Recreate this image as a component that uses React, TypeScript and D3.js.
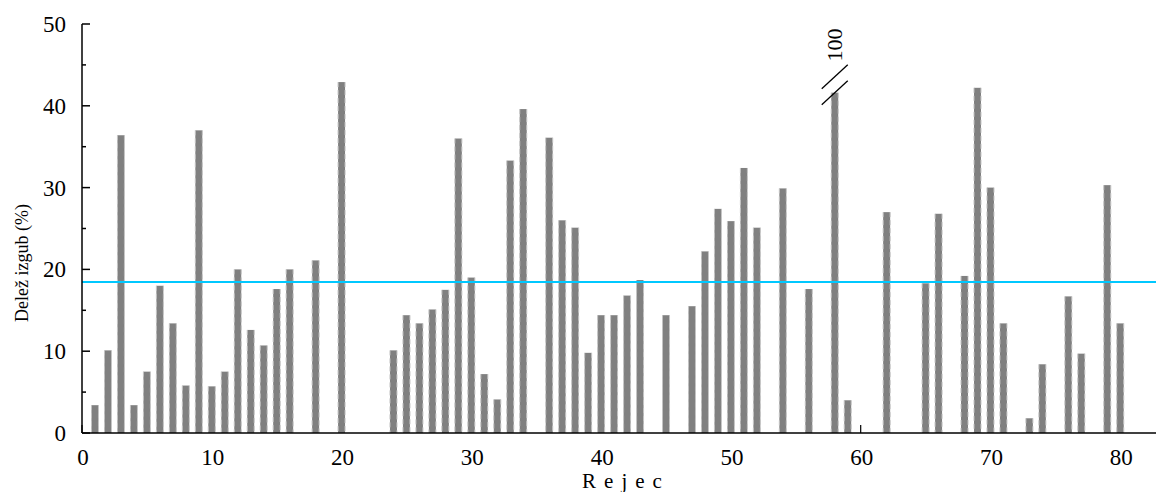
import React from "react";
import * as d3 from "d3";

// Row (Rejec) numbers and loss share (%) values; missing rows are omitted
const rows: number[] = [
  1, 2, 3, 4, 5, 6, 7, 8, 9, 10,
  11, 12, 13, 14, 15, 16, 18, 20,
  24, 25, 26, 27, 28, 29, 30,
  31, 32, 33, 34, 36, 37, 38, 39, 40,
  41, 42, 43, 45, 47, 48, 49, 50,
  51, 52, 54, 56, 58, 59,
  62, 65, 66, 68, 69, 70,
  71, 73, 74, 76, 77, 79, 80,
];
const losses: number[] = [
  3.4, 10.1, 36.4, 3.4, 7.5, 18.0, 13.4, 5.8, 37.0, 5.7,
  7.5, 20.0, 12.6, 10.7, 17.6, 20.0, 21.1, 42.9,
  10.1, 14.4, 13.4, 15.1, 17.5, 36.0, 19.0,
  7.2, 4.1, 33.3, 39.6, 36.1, 26.0, 25.1, 9.8, 14.4,
  14.4, 16.8, 18.7, 14.4, 15.5, 22.2, 27.4, 25.9,
  32.4, 25.1, 29.9, 17.6, 100, 4.0,
  27.0, 18.3, 26.8, 19.2, 42.2, 30.0,
  13.4, 1.8, 8.4, 16.7, 9.7, 30.3, 13.4,
];
const meanLoss = 18.45;
const yMax = 50;
const breakAt = 41.6; // bars above the axis maximum are drawn broken at this value
const xTicks: number[] = [0, 10, 20, 30, 40, 50, 60, 70, 80];
const yTicks: number[] = [0, 10, 20, 30, 40, 50];
const yMinorTicks: number[] = [5, 15, 25, 35, 45];
const xTitle = "Rejec";
const yTitle = "Delež izgub (%)";

const W = 1156;
const H = 492;
const FONT = "'Liberation Serif', 'DejaVu Serif', serif";

export default function App() {
  const x = d3.scaleLinear().domain([0, 82.6]).range([82, 1154]);
  const y = d3.scaleLinear().domain([0, yMax]).range([433, 24]);
  const bw = 7;

  const brokenIdx = losses.findIndex((v) => v > yMax);
  const bx = brokenIdx >= 0 ? x(rows[brokenIdx]) : 0;
  const by = y(breakAt);

  return (
    <svg width={W} height={H} style={{ display: "block", position: "absolute", left: 0, top: 0 }}>
      <rect x={0} y={0} width={W} height={H} fill="#fff" />
      {/* x ticks (behind bars) */}
      {xTicks.map((t) => (
        <line key={"xt" + t} x1={x(t)} x2={x(t)} y1={y(0)} y2={y(0) - 8} stroke="#000" strokeWidth={1.2} />
      ))}
      {/* bars */}
      {rows.map((r, i) => {
        const v = losses[i] > yMax ? breakAt : losses[i];
        const x0 = x(r) - bw / 2;
        const yt = y(v);
        return (
          <g key={r}>
            <rect x={x0} y={yt} width={bw} height={y(0) - yt} fill="#808080" />
            <line x1={x0} x2={x0} y1={yt} y2={y(0)} stroke="#c4c4c4" strokeWidth={1} strokeDasharray="5,3" />
            <line x1={x0 + bw} x2={x0 + bw} y1={yt} y2={y(0)} stroke="#c4c4c4" strokeWidth={1} strokeDasharray="5,3" />
          </g>
        );
      })}
      {/* mean line */}
      <line x1={x(0)} x2={W} y1={y(meanLoss)} y2={y(meanLoss)} stroke="#00c8ff" strokeWidth={2} />
      {/* axis break marker */}
      {brokenIdx >= 0 && (
        <g>
          <line x1={bx - 13} y1={by + 12} x2={bx + 13} y2={by - 12} stroke="#000" strokeWidth={1.3} />
          <line x1={bx - 13} y1={by - 4} x2={bx + 13} y2={by - 28} stroke="#000" strokeWidth={1.3} />
          <text
            transform={`translate(${bx + 7},${45}) rotate(-90)`}
            textAnchor="middle"
            fontFamily={FONT}
            fontSize={22}
          >
            {losses[brokenIdx]}
          </text>
        </g>
      )}
      {/* axes */}
      <line x1={x(0)} x2={x(0)} y1={y(0)} y2={y(yMax)} stroke="#000" strokeWidth={1.5} />
      <line x1={x(0)} x2={W} y1={y(0)} y2={y(0)} stroke="#000" strokeWidth={1.5} />
      {yTicks.map((t) => (
        <g key={"y" + t}>
          <line x1={x(0)} x2={x(0) + 8} y1={y(t)} y2={y(t)} stroke="#000" strokeWidth={1.5} />
          <text x={66} y={y(t) + 8} textAnchor="end" fontFamily={FONT} fontSize={23}>
            {t}
          </text>
        </g>
      ))}
      {yMinorTicks.map((t) => (
        <line key={"ym" + t} x1={x(0)} x2={x(0) + 4} y1={y(t)} y2={y(t)} stroke="#000" strokeWidth={1.5} />
      ))}
      {xTicks.map((t) => (
        <text key={"xl" + t} x={x(t) + 1} y={465} textAnchor="middle" fontFamily={FONT} fontSize={23}>
          {t}
        </text>
      ))}
      <text x={626} y={488} textAnchor="middle" fontFamily={FONT} fontSize={21} letterSpacing={8}>
        {xTitle}
      </text>
      <text
        transform={`translate(28,${263}) rotate(-90)`}
        textAnchor="middle"
        fontFamily={FONT}
        fontSize={18}
      >
        {yTitle}
      </text>
    </svg>
  );
}
